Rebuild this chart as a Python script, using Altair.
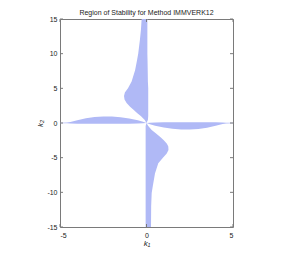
import altair as alt
import pandas as pd

# ---- data ----
# upper vertical lobe: x-range (left, right) at each k2
up_y = [0.0, 0.45, 1.0, 1.4, 1.9, 2.35, 2.9, 3.4, 3.9, 4.4, 5.0, 6.0, 7.6, 9.0, 10.0, 12.0, 13.5, 15.0]
up_left = [0.0, -0.1, -0.33, -0.53, -0.75, -0.95, -1.15, -1.27, -1.3, -1.25, -1.07, -0.86, -0.66, -0.55, -0.48, -0.38, -0.32, -0.28]
up_right = [0.0, 0.08, 0.1, 0.1, 0.1, 0.1, 0.1, 0.1, 0.1, 0.1, 0.1, 0.08, 0.07, 0.06, 0.05, 0.05, 0.05, 0.05]

# lower vertical lobe
lo_y = [0.0, -0.45, -1.0, -1.4, -2.0, -2.5, -3.0, -3.4, -3.9, -4.4, -5.0, -5.8, -7.3, -9.0, -10.1, -12.0, -15.0]
lo_left = [0.0, -0.05, -0.05, -0.05, -0.05, -0.05, -0.05, -0.05, -0.05, -0.05, -0.05, -0.05, -0.05, -0.05, -0.05, -0.05, -0.05]
lo_right = [0.0, 0.1, 0.3, 0.5, 0.78, 1.0, 1.18, 1.26, 1.27, 1.17, 0.95, 0.68, 0.49, 0.37, 0.3, 0.27, 0.26]

# left horizontal lobe: k2-range (bottom, top) at each k1
lf_x = [-5.0, -4.6, -4.4, -4.0, -3.5, -3.0, -2.5, -2.0, -1.5, -1.0, -0.5, -0.2, 0.0]
lf_top = [0.04, 0.06, 0.15, 0.4, 0.68, 0.86, 0.94, 0.93, 0.84, 0.66, 0.4, 0.17, 0.0]
lf_bot = [-0.04, -0.04, -0.08, -0.1, -0.12, -0.12, -0.12, -0.12, -0.12, -0.1, -0.08, -0.05, 0.0]

# right horizontal lobe
rt_x = [0.0, 0.2, 0.5, 1.0, 1.5, 2.0, 2.5, 3.0, 3.5, 4.0, 4.4, 4.6, 5.0]
rt_top = [0.0, 0.05, 0.08, 0.1, 0.12, 0.12, 0.12, 0.12, 0.12, 0.1, 0.08, 0.04, 0.04]
rt_bot = [0.0, -0.17, -0.4, -0.66, -0.84, -0.93, -0.94, -0.86, -0.68, -0.4, -0.15, -0.06, -0.04]

x_ticks = [-5, 0, 5]
y_ticks = [-15, -10, -5, 0, 5, 10, 15]

TITLE = "Region of Stability for Method IMMVERK12"

# ---- tables ----
vert = pd.concat([
    pd.DataFrame({"lobe": "upper", "y": up_y, "xa": up_left, "xb": up_right}),
    pd.DataFrame({"lobe": "lower", "y": lo_y, "xa": lo_left, "xb": lo_right}),
])
horz = pd.concat([
    pd.DataFrame({"lobe": "left", "x": lf_x, "ya": lf_bot, "yb": lf_top}),
    pd.DataFrame({"lobe": "right", "x": rt_x, "ya": rt_bot, "yb": rt_top}),
])
xt = pd.DataFrame({"t": x_ticks})
yt = pd.DataFrame({"t": y_ticks})
tt = pd.DataFrame({"title": [TITLE]})

W, H = 173, 208
FILL = "#b0b9f6"
GREY = "#7a7a7a"
FONT = "Liberation Sans"
TXT = "#222222"

xs = alt.Scale(domain=[-5, 5], nice=False, zero=False)
ys = alt.Scale(domain=[-15, 15], nice=False, zero=False)

xax = alt.Axis(values=x_ticks, title="k₁", labelExpr="datum.value + ''",
               domain=False, ticks=False, grid=False, labelPadding=4,
               titlePadding=1, titleFontStyle="italic", titleFontWeight="normal")
yax = alt.Axis(values=y_ticks, title="k₂", labelExpr="datum.value + ''",
               domain=False, ticks=False, grid=False, labelPadding=3,
               titlePadding=2, titleFontStyle="italic", titleFontWeight="normal")

vert_layer = alt.Chart(vert).mark_area(orient="horizontal", color=FILL, clip=True).encode(
    y=alt.Y("y:Q", scale=ys, axis=yax),
    x=alt.X("xa:Q", scale=xs, axis=xax),
    x2="xb:Q",
    detail="lobe:N",
)
horz_layer = alt.Chart(horz).mark_area(orient="vertical", color=FILL, clip=True).encode(
    x=alt.X("x:Q", scale=xs, axis=xax),
    y=alt.Y("ya:Q", scale=ys, axis=yax),
    y2="yb:Q",
    detail="lobe:N",
)

left_ticks = alt.Chart(yt).mark_rule(color=GREY, strokeWidth=1).encode(
    y=alt.Y("t:Q", scale=ys, axis=yax), x=alt.value(0), x2=alt.value(3))
right_ticks = alt.Chart(yt).mark_rule(color=GREY, strokeWidth=1).encode(
    y=alt.Y("t:Q", scale=ys, axis=yax), x=alt.value(W - 3), x2=alt.value(W))
bottom_ticks = alt.Chart(xt).mark_rule(color=GREY, strokeWidth=1).encode(
    x=alt.X("t:Q", scale=xs, axis=xax), y=alt.value(H - 3), y2=alt.value(H))
top_ticks = alt.Chart(xt).mark_rule(color=GREY, strokeWidth=1).encode(
    x=alt.X("t:Q", scale=xs, axis=xax), y=alt.value(0), y2=alt.value(3))

title_layer = alt.Chart(tt).mark_text(
    font=FONT, fontSize=7, color=TXT, align="center", baseline="alphabetic"
).encode(text="title:N", x=alt.value(W / 2), y=alt.value(-4.5))

chart = alt.layer(
    vert_layer, horz_layer, left_ticks, right_ticks, bottom_ticks, top_ticks, title_layer
).properties(
    width=W, height=H,
    autosize=alt.AutoSizeParams(type="none"),
    padding={"left": 52, "top": 11, "right": 30, "bottom": 21},
    background="white",
).configure_view(
    stroke=GREY, strokeWidth=1,
).configure_axis(
    labelFont=FONT, labelFontSize=7, labelColor=TXT,
    titleFont=FONT, titleFontSize=8, titleColor=TXT,
)

chart.save("out.html", embed_options={"renderer": "svg", "actions": False})
